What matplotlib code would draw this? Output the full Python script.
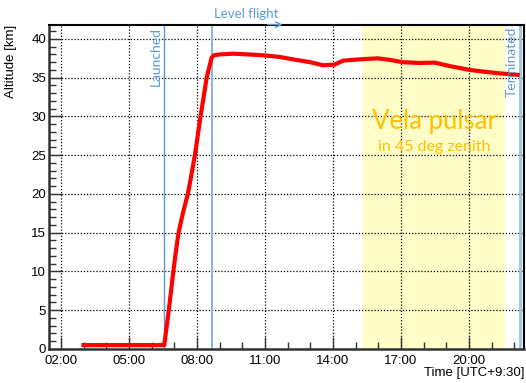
import matplotlib
matplotlib.use('Agg')
import matplotlib.pyplot as plt
from matplotlib.ticker import FixedLocator, MultipleLocator, FuncFormatter

# flight profile, hours in local time (UTC+9:30)
time_h = [2.91, 6.56, 6.76, 6.96, 7.07, 7.19, 7.38, 7.6, 7.76, 7.91, 8.16, 8.43, 8.65, 8.75,
          9.0, 9.6, 10.3, 10.9, 11.6, 12.38, 13.0, 13.56, 14.07, 14.44, 15.32, 15.98, 16.5,
          17.09, 17.82, 18.49, 19.15, 20.03, 20.6, 21.2, 22.23]
altitude_km = [0.5, 0.5, 5.0, 10.0, 12.5, 15.0, 17.5, 20.0, 22.5, 25.0, 30.0, 35.0, 37.6, 37.9,
               38.0, 38.1, 38.0, 37.9, 37.7, 37.3, 37.0, 36.6, 36.7, 37.2, 37.4, 37.5, 37.3,
               37.0, 36.9, 36.95, 36.5, 36.0, 35.8, 35.6, 35.35]

major_hours = [2, 5, 8, 11, 14, 17, 20]
minor_hours = list(range(2, 23))

t_launch = 6.56
t_level = 8.66
t_term = 22.23
vela_window = (15.26, 21.57)

blue = '#5B9BD5'
gold = '#FFC000'
note_font = ['Lato', 'DejaVu Sans']

plt.rcParams['font.family'] = ['Liberation Sans', 'DejaVu Sans']

fig = plt.figure(figsize=(5.26, 3.83), dpi=100)
ax = fig.add_axes([0.0932, 0.0888, 0.9030, 0.8459])

ax.axvspan(vela_window[0], vela_window[1], color='#FFFDC8', zorder=0, lw=0)

ax.grid(True, which='major', color='black', linestyle=(0, (1, 1.5)), linewidth=0.9, zorder=1)

ax.axvline(t_launch, color=blue, lw=1.0, zorder=2)
ax.axvline(t_level, color='#8DB4E2', lw=1.5, zorder=2)
ax.axvline(t_term, color='#9DC3E6', lw=2.0, zorder=2)

ax.plot(time_h, altitude_km, color='red', lw=3.0, zorder=3,
        solid_capstyle='butt', solid_joinstyle='round')

ax.set_xlim(1.48, 22.42)
ax.set_ylim(0, 41.8)

ax.xaxis.set_major_locator(FixedLocator(major_hours))
ax.xaxis.set_minor_locator(FixedLocator(minor_hours))
ax.xaxis.set_major_formatter(FuncFormatter(lambda v, p: '%02d:00' % int(round(v))))
ax.yaxis.set_major_locator(MultipleLocator(5))
ax.yaxis.set_minor_locator(MultipleLocator(1))

ax.tick_params(which='both', direction='in', labelsize=9.5, color='#333333', width=1.0)
ax.tick_params(which='major', length=9)
ax.tick_params(which='minor', length=5)
ax.tick_params(axis='x', pad=4)
ax.tick_params(axis='y', pad=2)

for side in ['left', 'bottom']:
    ax.spines[side].set_linewidth(1.8)
    ax.spines[side].set_color('#333333')
for side in ['top', 'right']:
    ax.spines[side].set_linewidth(1.5)
    ax.spines[side].set_color('black')

ax.set_xlabel('Time [UTC+9:30]', fontsize=9.5, loc='right', labelpad=0)
ax.set_ylabel('Altitude [km]', fontsize=9.5, loc='top')
ax.yaxis.set_label_coords(-0.068, 1.0)

ax.text(t_launch - 0.1, 41.6, 'Launched', rotation=90, ha='right', va='top',
        color=blue, fontsize=10, family=note_font)
ax.text(t_term - 0.1, 41.6, 'Terminated', rotation=90, ha='right', va='top',
        color=blue, fontsize=10, family=note_font)
ax.text(t_level + 0.08, 42.4, 'Level flight', ha='left', va='bottom',
        color=blue, fontsize=9.5, family=note_font, clip_on=False)
ax.annotate('', xy=(11.9, 41.85), xytext=(11.0, 41.85),
            arrowprops=dict(arrowstyle='->', color=blue, lw=1.0), annotation_clip=False)

ax.text(18.47, 29.3, 'Vela pulsar', ha='center', va='center', color=gold,
        fontsize=18.5, family=note_font)
ax.text(18.47, 26.1, 'in 45 deg zenith', ha='center', va='center', color=gold,
        fontsize=11.5, family=note_font)

fig.savefig('out.png', dpi=100)
